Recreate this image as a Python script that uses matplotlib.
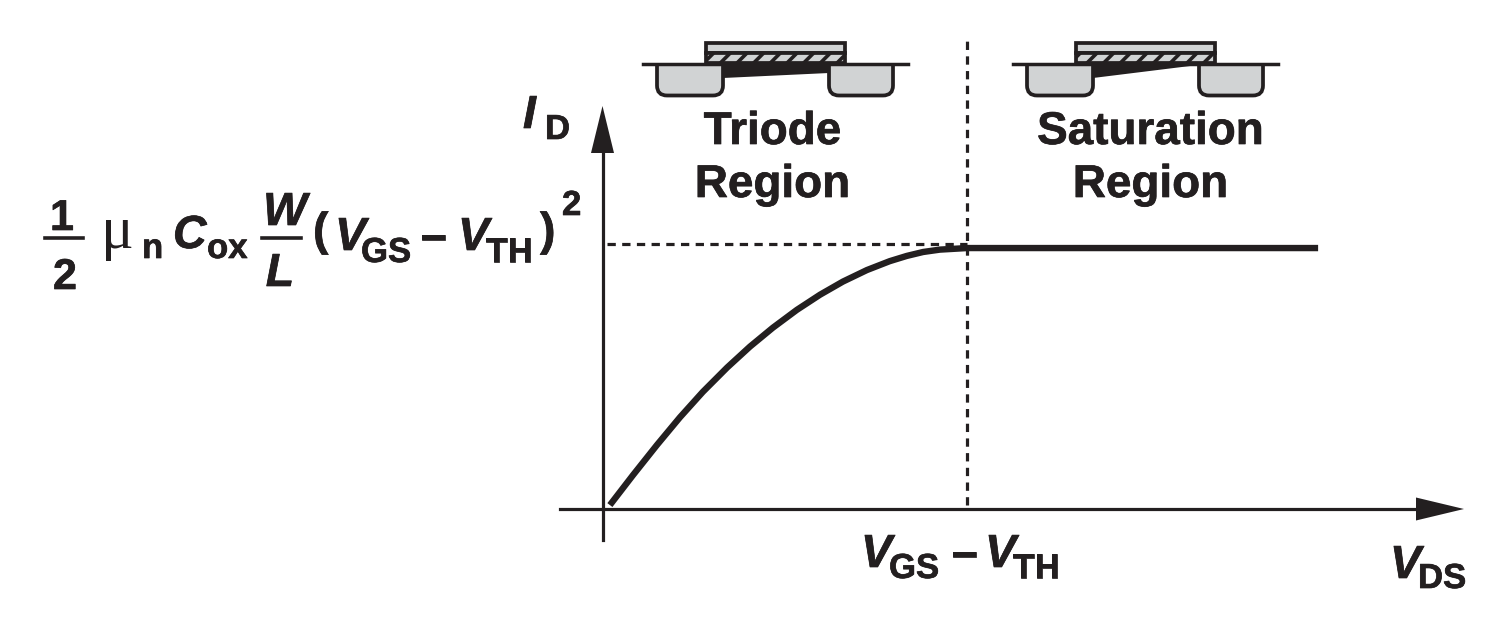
# I_D vs V_DS curve with triode / saturation regions
import matplotlib
matplotlib.use("Agg")
import matplotlib.pyplot as plt
import matplotlib.patheffects as pe
from matplotlib.patches import Rectangle, Polygon, PathPatch
from matplotlib.path import Path

W, H = 1490, 618
X0, Y0 = 603, 509     # origin, in pixels
XU, YU = 363, 262     # pixels for one unit (VDS = VGS-VTH, ID = max)

# curve values, normalised
vds = [0.019, 0.083, 0.149, 0.212, 0.275, 0.342, 0.405, 0.468, 0.534, 0.598, 0.661,
       0.727, 0.790, 0.837, 0.882, 0.928, 1.003, 1.30, 1.97]
id_ = [0.015, 0.130, 0.245, 0.350, 0.447, 0.540, 0.620, 0.692, 0.760, 0.818, 0.868,
       0.912, 0.946, 0.966, 0.981, 0.990, 0.996, 0.996, 0.996]

GREY = "#d1d3d4"
INK = "#231f20"
plt.rcParams["font.family"] = ["Liberation Sans", "DejaVu Sans"]
plt.rcParams["hatch.linewidth"] = 2.6
plt.rcParams["hatch.color"] = INK

fig = plt.figure(figsize=(W / 100, H / 100), dpi=100)

# curve axes, limits chosen so the origin lands at (X0, Y0)
ax = fig.add_axes([0, 0, 1, 1])
ax.set_xlim(-X0 / XU, (W - X0) / XU)
ax.set_ylim((Y0 - H) / YU, Y0 / YU)
ax.axis("off")
ax.plot(vds, id_, color=INK, lw=4.6, solid_capstyle="butt", solid_joinstyle="round")
ax.plot([0.011, 1.003], [1.011, 1.011], color=INK, lw=2.3, dashes=(2.6, 2.0))
ax.plot([1.003, 1.003], [0.015, 1.79], color=INK, lw=2.3, dashes=(2.6, 2.0))

# overlay in pixel coordinates for the annotation
pa = fig.add_axes([0, 0, 1, 1])
pa.set_xlim(0, W)
pa.set_ylim(H, 0)
pa.axis("off")
pa.patch.set_alpha(0)

pa.plot([602.5, 602.5], [540, 150], color=INK, lw=2.3)
pa.plot([560, 1420], [Y0, Y0], color=INK, lw=2.3)
pa.add_patch(Polygon([(602.5, 106), (614, 153), (591, 153)], color=INK, lw=0))
pa.add_patch(Polygon([(1464, Y0), (1416, Y0 - 11.5), (1416, Y0 + 11.5)], color=INK, lw=0))


def well(x1, x2):
    y1, y2, r = 64, 95.5, 10
    verts = [(x1, y1), (x1, y2 - r), (x1, y2), (x1 + r, y2), (x2 - r, y2),
             (x2, y2), (x2, y2 - r), (x2, y1)]
    codes = [Path.MOVETO, Path.LINETO, Path.CURVE3, Path.CURVE3, Path.LINETO,
             Path.CURVE3, Path.CURVE3, Path.LINETO]
    pa.add_patch(PathPatch(Path(verts, codes), fc=GREY, ec=INK, lw=2.7))


def device(dx, drain_end, drain_y):
    well(657 + dx, 723 + dx)
    well(829 + dx, 893 + dx)
    pa.add_patch(Polygon([(723 + dx, 64), (drain_end + dx, 64), (drain_end + dx, drain_y),
                          (723 + dx, 78)], color=INK, lw=0))
    pa.add_patch(Rectangle((706 + dx, 43), 139, 10, fc=GREY, ec=INK, lw=2.7))
    pa.add_patch(Rectangle((706 + dx, 53), 139, 10, fc=GREY, ec=INK, lw=2.7, hatch="//"))
    pa.plot([643 + dx, 908 + dx], [63.5, 63.5], color=INK, lw=2.5)


device(0, 829, 73)
device(370, 820, 66)


def txt(x, y, s, size=33.4, style="normal", ha="left"):
    # x, y = left edge and baseline in pixels
    pa.text(x, y, s, fontsize=size, fontweight="bold", fontstyle=style, color=INK,
            ha=ha, va="baseline",
            path_effects=[pe.withStroke(linewidth=0.5, foreground=INK)])


# regions
txt(772.5, 144, "Triode", size=33)
txt(772.5, 197, "Region", size=33)
txt(1150.5, 144, "Saturation", size=33)
txt(1150.5, 197, "Region", size=33)
for t in pa.texts:
    t.set_ha("center")

# axis labels
txt(523, 128, "I", style="italic")
txt(545, 139, "D", size=25)
txt(1390, 578, "V", style="italic")
txt(1418, 588, "DS", size=25)
txt(861, 567, "V", style="italic")
txt(889, 578, "GS", size=25)
txt(952, 567, "\u2013")
txt(985, 567, "V", style="italic")
txt(1013, 578, "TH", size=25)

# saturation current expression
txt(62, 230, "1", size=31, ha="center")
pa.plot([45, 83], [238, 238], color=INK, lw=2.6)
txt(65, 289, "2", size=31, ha="center")
pa.text(101, 248, "\u03bc", fontsize=44, color=INK, family="Liberation Serif", va="baseline")
txt(142, 258, "n", size=25)
txt(173, 248, "C", style="italic")
txt(207, 258, "ox", size=25)
txt(285, 225, "W", style="italic", ha="center")
pa.plot([262, 301], [238, 238], color=INK, lw=2.6)
txt(280, 286, "L", style="italic", ha="center")
txt(313, 245, "(")
txt(335, 250, "V", style="italic")
txt(361, 262, "GS", size=25)
txt(421, 250, "\u2013")
txt(458, 250, "V", style="italic")
txt(486, 262, "TH", size=25)
txt(540, 245, ")")
txt(562, 215, "2", size=25)

fig.savefig("out.png", dpi=100)
